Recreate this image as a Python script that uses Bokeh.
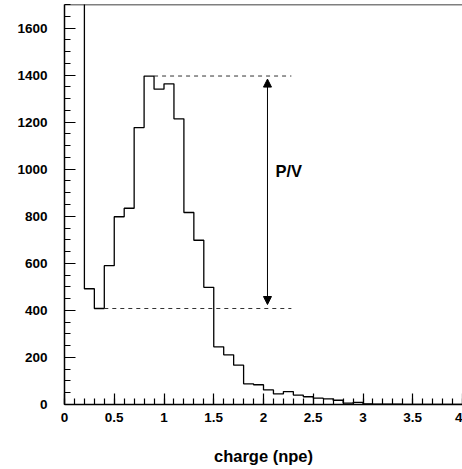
from bokeh.plotting import figure
from bokeh.models import Range1d, SingleIntervalTicker, Arrow, NormalHead, Label, ColumnDataSource, Span
from bokeh.embed import file_html
from bokeh.resources import INLINE

# ---- data ----
bin_width = 0.1
counts = [5000, 5000, 492, 408, 590, 798, 834, 1177, 1396, 1340,
          1363, 1214, 816, 698, 498, 245, 211, 167, 88, 84,
          62, 45, 55, 40, 33, 27, 24, 18, 6, 9,
          3, 2, 2, 1, 0, 0, 0, 0, 0, 0]
edges = [round(i * bin_width, 2) for i in range(len(counts) + 1)]

peak_value = 1396
valley_value = 408
peak_line_x = [0.9, 2.28]
valley_line_x = [0.4, 2.28]
arrow_x = 2.04
arrow_y = [425, 1383]
pv_label = "P/V"
pv_pos = (2.12, 991)
x_title = "charge (npe)"
x_lim = (0.0, 4.0)
y_lim = (0.0, 1700)

FONT = "Liberation Sans"

p = figure(width=462, height=469, output_backend="svg", toolbar_location=None,
           x_range=Range1d(*x_lim), y_range=Range1d(*y_lim),
           min_border_left=64, min_border_right=0, min_border_top=4, min_border_bottom=65)
p.background_fill_color = "white"
p.border_fill_color = "white"
p.grid.visible = False
p.outline_line_color = None

# top frame border
p.add_layout(Span(location=y_lim[1], dimension="width", line_color="black", line_width=1.5))

# axes
p.xaxis.ticker = SingleIntervalTicker(interval=0.5, num_minor_ticks=5)
p.yaxis.ticker = SingleIntervalTicker(interval=200, num_minor_ticks=4)
for ax in (p.xaxis[0], p.yaxis[0]):
    ax.axis_line_color = "black"
    ax.axis_line_width = 1.5
    ax.major_tick_in = 11
    ax.major_tick_out = 0
    ax.minor_tick_in = 6
    ax.minor_tick_out = 0
    ax.major_tick_line_color = "black"
    ax.minor_tick_line_color = "black"
    ax.major_tick_line_width = 1.2
    ax.minor_tick_line_width = 1.2
    ax.major_label_text_font = FONT
    ax.major_label_text_font_style = "bold"
    ax.major_label_text_font_size = "13.5px"
    ax.major_label_text_color = "black"
p.xaxis.major_label_standoff = 8
p.yaxis.major_label_standoff = 17
p.xaxis.major_label_overrides = {0: "0", 1: "1", 2: "2", 3: "3", 4: "4"}
p.xaxis.axis_label = x_title
p.xaxis.axis_label_text_font = FONT
p.xaxis.axis_label_text_font_style = "bold"
p.xaxis.axis_label_text_font_size = "16.5px"
p.xaxis.axis_label_text_color = "black"
p.xaxis.axis_label_standoff = 22

# histogram outline
src = ColumnDataSource(dict(x=edges, y=counts + [counts[-1]]))
p.step(x="x", y="y", source=src, mode="after", line_color="black", line_width=1.3)

# dashed reference lines
p.line(x=peak_line_x, y=[peak_value, peak_value], line_color="#333333", line_width=1, line_dash="4 4")
p.line(x=valley_line_x, y=[valley_value, valley_value], line_color="#333333", line_width=1, line_dash="4 4")

# double arrow
p.add_layout(Arrow(x_start=arrow_x, y_start=arrow_y[0], x_end=arrow_x, y_end=arrow_y[1],
                   line_color="black", line_width=1,
                   start=NormalHead(size=8, fill_color="black", line_color="black"),
                   end=NormalHead(size=8, fill_color="black", line_color="black")))

p.add_layout(Label(x=pv_pos[0], y=pv_pos[1], text=pv_label, text_font=FONT,
                   text_font_style="bold", text_font_size="16.5px", text_color="black",
                   text_baseline="alphabetic"))

open("out.html", "w").write(file_html(p, INLINE))
